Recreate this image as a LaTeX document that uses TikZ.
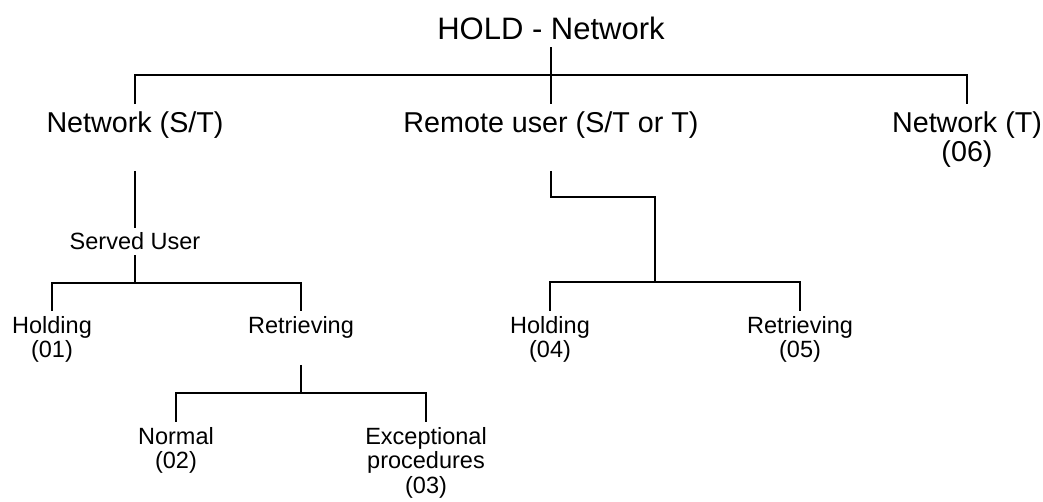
\documentclass[tikz,border=0pt]{standalone}
\usepackage{fontspec}
\setmainfont{Liberation Sans}

\begin{document}
\begin{tikzpicture}
  [x=1pt,y=-1pt,line width=2pt,
   every node/.style={inner sep=0pt,anchor=base,align=center},
   top/.style={font=\fontsize{31}{32}\selectfont,outer sep=7pt},
   big/.style={font=\fontsize{28.7}{29}\selectfont,outer sep=8pt},
   small/.style={font=\fontsize{23.5}{24.5}\selectfont,outer sep=5pt}]
  \useasboundingbox (0,0) rectangle (1043,502);

  % levels (base = last line)
  \node[top] (hold) at (551,40) {HOLD - Network};
  \node[big] (netst) at (135,133) {Network (S/T)};
  \node[big] (remote) at (551,133) {Remote user (S/T or T)};
  \node[big] (nett) at (967,162) {Network (T)\\(06)};
  \node[small] (served) at (135,250) {Served User};
  \node[small] (hold1) at (52,357.5) {Holding\\(01)};
  \node[small] (retr1) at (301,333) {Retrieving};
  \node[small] (normal) at (176,468.5) {Normal\\(02)};
  \node[small] (exc) at (426,493) {Exceptional\\procedures\\(03)};
  \node[small] (hold2) at (550,357.5) {Holding\\(04)};
  \node[small] (retr2) at (800,357.5) {Retrieving\\(05)};

  % junctions
  \coordinate (bus1) at (551,75);
  \coordinate (bus2) at (135,283);
  \coordinate (bus3) at (301,393);
  \coordinate (bus4) at (655,282);

  \draw (hold) -- (remote);
  \draw (netst) |- (bus1) -| (nett);
  \draw ([yshift=-24pt]netst.south) -- (served);
  \draw (served) -- (bus2);
  \draw (hold1) |- (bus2) -| (retr1);
  \draw ([yshift=-22pt]retr1.south) -- (bus3);
  \draw (normal) |- (bus3) -| (exc);
  \draw ([yshift=-24pt]remote.south) -- ++(0,26) -| (bus4);
  \draw (hold2) |- (bus4) -| (retr2);
\end{tikzpicture}
\end{document}
